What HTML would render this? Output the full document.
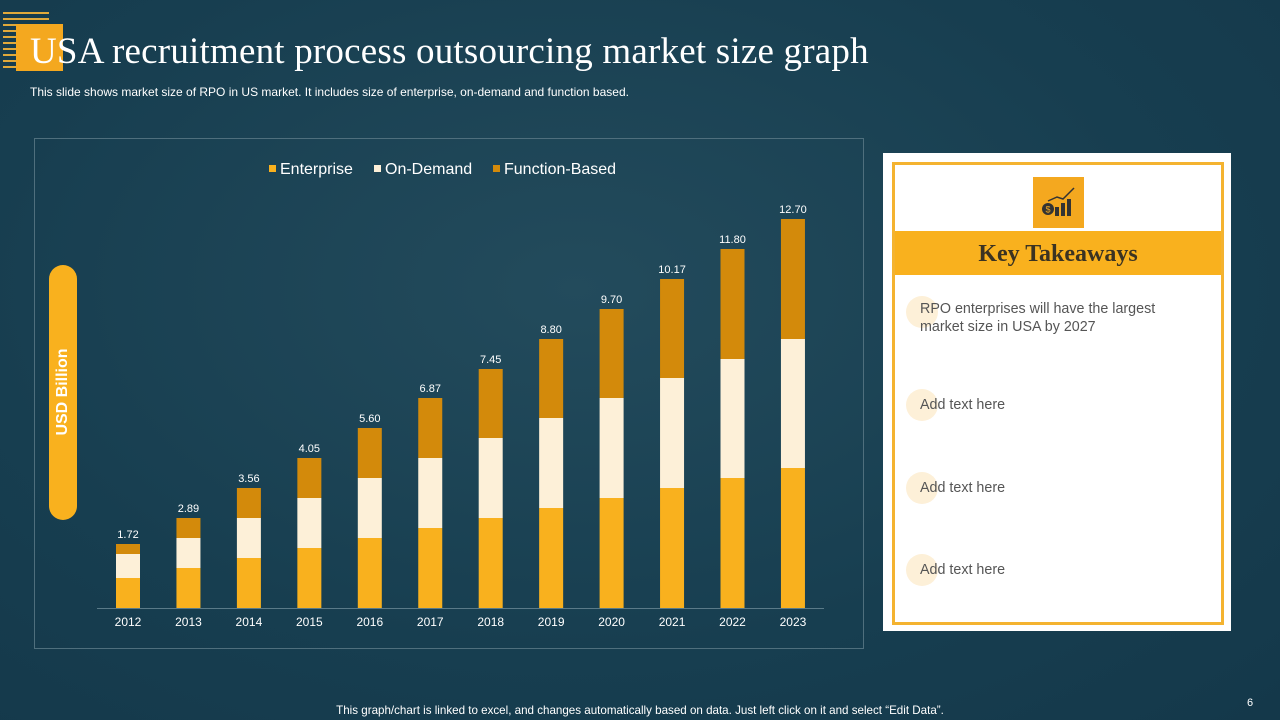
<!DOCTYPE html>
<html><head><meta charset="utf-8"><style>
body{margin:0;width:1280px;height:720px;overflow:hidden;background:#173e50;font-family:"Liberation Sans",sans-serif;position:relative}
.abs{position:absolute}
.tk{font-size:14.3px;color:#555}
</style></head><body>
<div class="abs" style="left:0;top:0;width:1280px;height:720px;background:radial-gradient(ellipse at 45% 40%,#234b5c 0%,#173e50 60%,#14384a 100%)"></div>
<div class="abs" style="left:3px;top:12px;width:46px;height:58px;background:repeating-linear-gradient(#e0a93a 0 2px,transparent 2px 6px)"></div>
<div class="abs" style="left:16px;top:24px;width:47px;height:47px;background:#f4a81f"></div>
<div class="abs" style="left:30px;top:30px;font-family:'Liberation Serif',serif;font-size:37px;letter-spacing:0.2px;color:#fff;white-space:nowrap">USA recruitment process outsourcing market size graph</div>
<div class="abs" style="left:30px;top:85px;font-size:12px;color:#fff;white-space:nowrap">This slide shows market size of RPO in US market. It includes size of enterprise, on-demand and function based.</div>
<div class="abs" style="left:34px;top:138px;width:828px;height:509px;border:1px solid #4f6f7d"></div>
<div class="abs" style="left:49px;top:265px;width:28px;height:255px;background:#f9b11e;border-radius:14px"></div>
<div class="abs" style="left:63px;top:392px;transform:translate(-50%,-50%) rotate(-90deg);color:#fff;font-weight:bold;font-size:16px;white-space:nowrap">USD Billion</div>
<svg class="abs" style="left:0;top:0" width="880" height="660" id="chart"></svg>
<div class="abs" style="left:883px;top:153px;width:348px;height:478px;background:#fff"></div>
<div class="abs" style="left:892px;top:162px;width:326px;height:457px;border:3px solid #f4b330"></div>
<div class="abs" style="left:1033px;top:177px;width:51px;height:51px;background:#f4a81f">
<svg width="51" height="51" viewBox="0 0 51 51"><circle cx="15" cy="32" r="6" fill="#333"/><text x="15" y="35.5" font-size="9" text-anchor="middle" fill="#f4a81f" font-family="Liberation Sans">$</text><rect x="22" y="30" width="4" height="9" fill="#333"/><rect x="28" y="26" width="4" height="13" fill="#333"/><rect x="34" y="22" width="4" height="17" fill="#333"/><polyline points="15,24 24,20 30,22 41,11" stroke="#333" stroke-width="1.5" fill="none"/></svg></div>
<div class="abs" style="left:895px;top:231px;width:326px;height:44px;background:#f9b11e;text-align:center;line-height:46px;font-family:'Liberation Serif',serif;font-weight:bold;font-size:24px;color:#3b3322">Key Takeaways</div>
<div class="abs" style="left:906px;top:296px;width:32px;height:32px;border-radius:50%;background:#fdf0d8"></div>
<div class="abs tk" style="left:920px;top:300px;line-height:18px">RPO enterprises will have the largest<br>market size in USA by 2027</div>
<div class="abs" style="left:906px;top:389px;width:32px;height:32px;border-radius:50%;background:#fdf0d8"></div>
<div class="abs tk" style="left:920px;top:397px">Add text here</div>
<div class="abs" style="left:906px;top:472px;width:32px;height:32px;border-radius:50%;background:#fdf0d8"></div>
<div class="abs tk" style="left:920px;top:480px">Add text here</div>
<div class="abs" style="left:906px;top:554px;width:32px;height:32px;border-radius:50%;background:#fdf0d8"></div>
<div class="abs tk" style="left:920px;top:562px">Add text here</div>
<div class="abs" style="left:0;width:1280px;top:704px;text-align:center;font-size:11.6px;color:#fff;white-space:nowrap">This graph/chart is linked to excel, and changes automatically based on data. Just left click on it and select “Edit Data”.</div>
<div class="abs" style="left:1247px;top:697px;font-size:11px;color:#fff">6</div>
<script>
const years=["2012","2013","2014","2015","2016","2017","2018","2019","2020","2021","2022","2023"];
const enterprise=[3,4,5,6,7,8,9,10,11,12,13,14];
const onDemand=[2.4,3,4,5,6,7,8,9,10,11,11.9,12.9];
const functionBased=[1,2,3,4,5,6,6.9,7.9,8.9,9.9,11,12];
const totals=["1.72","2.89","3.56","4.05","5.60","6.87","7.45","8.80","9.70","10.17","11.80","12.70"];
const svg=document.getElementById('chart');const NS='http://www.w3.org/2000/svg';
const x0=128,step=60.45,base=608,ppu=10,bw=24;
const xs=i=>x0+i*step;const ys=v=>base-v*ppu;
function mk(t,a){const e=document.createElementNS(NS,t);for(const k in a)e.setAttribute(k,a[k]);svg.appendChild(e);return e;}
const axis=mk('line',{x1:97,x2:824,y1:base+0.5,y2:base+0.5,stroke:'#5a7a88'});


const cols=['#f9b11e','#fdf0d8','#d38a0b'];const series=[enterprise,onDemand,functionBased];const sn=['enterprise','on-demand','function-based'];
years.forEach((y,i)=>{let acc=0;
 series.forEach((s,j)=>{const r=mk('rect',{x:xs(i)-bw/2,y:ys(acc+s[i]),width:bw,height:s[i]*ppu,fill:cols[j]});
  
  acc+=s[i];});
 const t=mk('text',{x:xs(i),y:ys(acc)-6,'text-anchor':'middle','font-size':11,fill:'#fff'});t.textContent=totals[i];
 
 
 const l=mk('text',{x:xs(i),y:626,'text-anchor':'middle','font-size':12,fill:'#fff'});l.textContent=y;
 
 
});
const leg=[['Enterprise',269],['On-Demand',374],['Function-Based',493]];
leg.forEach((g,j)=>{const r=mk('rect',{x:g[1],y:165,width:7,height:7,fill:cols[j]});
 
 
 const t=mk('text',{x:g[1]+11,y:174,'font-size':16,fill:'#fff'});t.textContent=g[0];
 
 });
</script>
</body></html>
